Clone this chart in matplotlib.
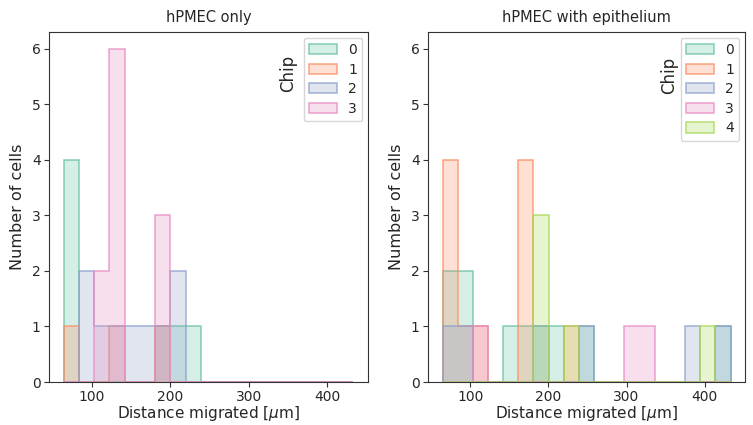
import numpy as np
import matplotlib
matplotlib.use("Agg")
import matplotlib.pyplot as plt
from matplotlib.patches import Patch
from matplotlib.colors import to_rgba

# ---- data (counts per bin, shared bins) ----
bin_start = 64.5
bin_end = 433.1
n_bins = 19

titles = ["hPMEC only", "hPMEC with epithelium"]
chips_left = ["0", "1", "2", "3"]
chips_right = ["0", "1", "2", "3", "4"]

left_chip0 = [4, 0, 0, 0, 0, 0, 1, 1, 1, 0, 0, 0, 0, 0, 0, 0, 0, 0, 0]
left_chip1 = [1, 0, 0, 1, 0, 0, 1, 0, 0, 0, 0, 0, 0, 0, 0, 0, 0, 0, 0]
left_chip2 = [0, 2, 1, 1, 1, 1, 1, 2, 0, 0, 0, 0, 0, 0, 0, 0, 0, 0, 0]
left_chip3 = [0, 0, 2, 6, 0, 0, 3, 0, 0, 0, 0, 0, 0, 0, 0, 0, 0, 0, 0]

right_chip0 = [2, 2, 0, 0, 1, 1, 1, 1, 0, 1, 0, 0, 0, 0, 0, 0, 0, 0, 1]
right_chip1 = [4, 1, 1, 0, 0, 4, 0, 0, 1, 0, 0, 0, 0, 0, 0, 0, 0, 0, 0]
right_chip2 = [1, 1, 0, 0, 0, 0, 1, 0, 0, 1, 0, 0, 0, 0, 0, 0, 1, 0, 1]
right_chip3 = [0, 0, 1, 0, 0, 0, 0, 0, 0, 0, 0, 0, 1, 1, 0, 0, 0, 0, 0]
right_chip4 = [0, 0, 0, 0, 0, 0, 3, 0, 1, 0, 0, 0, 0, 0, 0, 0, 0, 1, 0]

palette = ["#66c2a5", "#fc8d62", "#8da0cb", "#e78ac3", "#a6d854"]

edges = np.linspace(bin_start, bin_end, n_bins + 1)

TXT = "#262626"
plt.rcParams["text.color"] = TXT
plt.rcParams["axes.labelcolor"] = TXT
plt.rcParams["xtick.color"] = "#333333"
plt.rcParams["ytick.color"] = "#333333"
plt.rcParams["xtick.labelcolor"] = TXT
plt.rcParams["ytick.labelcolor"] = TXT
plt.rcParams["axes.edgecolor"] = "#333333"

fig = plt.figure(figsize=(7.53, 4.25), dpi=100)
W, H = 753, 425
ax1 = fig.add_axes([49 / W, (H - 382) / H, 319 / W, 350 / H])
ax2 = fig.add_axes([428 / W, (H - 382) / H, 317 / W, 350 / H])

def draw(ax, series, labels, title, chip_xy):
    for i, vals in enumerate(series):
        c = palette[i]
        ax.stairs(vals, edges, fill=True, facecolor=to_rgba(c, 0.27),
                  edgecolor="none", baseline=0)
        ax.stairs(vals, edges, fill=False, color=to_rgba(c, 0.8),
                  linewidth=1.1, baseline=0)
    ax.set_xlim(45.9, 451.6)
    ax.set_ylim(0, 6.3)
    ax.set_xticks([100, 200, 300, 400])
    ax.set_yticks(range(0, 7))
    ax.tick_params(labelsize=10, length=3.5, pad=2.5)
    ax.set_xlabel("Distance migrated [$\\mu$m]", fontsize=11, labelpad=0)
    ax.set_ylabel("Number of cells", fontsize=11.5, labelpad=5)
    ax.set_title(title, fontsize=10.5, pad=7)
    handles = [Patch(facecolor=to_rgba(palette[i], 0.27),
                     edgecolor=to_rgba(palette[i], 0.8), linewidth=1.1)
               for i in range(len(labels))]
    ax.legend(handles, labels, loc="upper right", fontsize=10,
              handlelength=2.0, handleheight=0.75, labelspacing=0.4,
              borderaxespad=0.4, borderpad=0.4, handletextpad=0.8)
    ax.text(chip_xy[0], chip_xy[1], "Chip", rotation=90, fontsize=12,
            ha="center", va="center", transform=fig.transFigure)

draw(ax1, [left_chip0, left_chip1, left_chip2, left_chip3], chips_left,
     titles[0], (288 / W, 1 - 73 / H))
draw(ax2, [right_chip0, right_chip1, right_chip2, right_chip3, right_chip4],
     chips_right, titles[1], (669 / W, 1 - 75 / H))

fig.savefig("out.png", dpi=100)
